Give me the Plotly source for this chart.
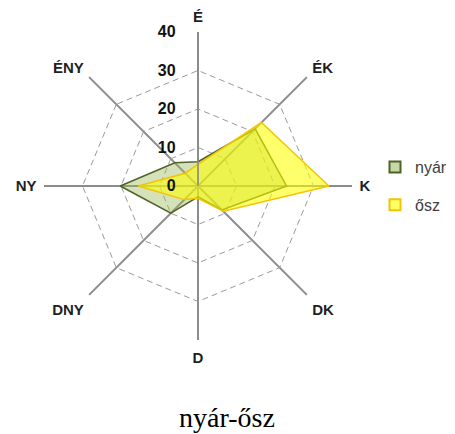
import plotly.graph_objects as go

directions = ["É", "ÉK", "K", "DK", "D", "DNY", "NY", "ÉNY"]
nyar = [6.3, 21.0, 23.0, 8.8, 2.8, 10.0, 20.2, 8.5]
osz = [5.6, 23.3, 34.0, 9.3, 3.2, 5.0, 15.5, 4.7]
radial_ticks = [0, 10, 20, 30, 40]

def closed(v):
    return v + v[:1]

series = [
    ("nyár", nyar, "#4f6228", "rgba(155,187,89,0.42)", "#c6d9a4"),
    ("ősz", osz, "#f2c500", "rgba(255,255,0,0.58)", "#ffff66"),
]

fig = go.Figure()
for name, vals, lc, fc, lfc in series:
    fig.add_trace(go.Scatterpolar(
        r=closed(vals), theta=closed(directions), name=name,
        mode="lines", fill="toself", showlegend=False,
        line=dict(color=lc, width=1.5), fillcolor=fc,
    ))
for i, (name, vals, lc, fc, lfc) in enumerate(series):
    fig.add_trace(go.Scatterpolar(
        r=[None], theta=[None], name=name, mode="markers",
        legendgroup=str(i),
        marker=dict(symbol="square", size=11, color=lfc, line=dict(color=lc, width=2)),
    ))

W, H = 455, 434
cx, cy, R = 190, 178, 154

fig.update_layout(
    width=W, height=H,
    margin=dict(l=0, r=0, t=0, b=0),
    paper_bgcolor="white",
    showlegend=True,
    polar=dict(
        domain=dict(x=[(cx - R) / W, (cx + R) / W],
                    y=[(H - cy - R) / H, (H - cy + R) / H]),
        gridshape="linear",
        bgcolor="white",
        angularaxis=dict(
            rotation=90, direction="clockwise",
            categoryorder="array", categoryarray=directions,
            showline=False, gridcolor="#8c8c8c", gridwidth=1.6,
            ticks="outside", ticklen=4, tickcolor="rgba(0,0,0,0)",
            tickfont=dict(family="Liberation Sans", size=15, color="#1f1f1f", weight="bold"),
        ),
        radialaxis=dict(
            range=[0, 40], tickvals=radial_ticks, angle=90, tickangle=90,
            showline=True, linecolor="#8c8c8c", linewidth=1.6,
            gridcolor="#9a9a9a", griddash="6px,4px", gridwidth=1.4,
            ticks="outside", ticklen=16, tickcolor="rgba(0,0,0,0)",
            side="counterclockwise",
            tickfont=dict(family="Liberation Sans", size=16, color="#111111", weight="bold"),
        ),
    ),
    legend=dict(
        x=367 / W, y=1 - 178 / H, xanchor="left", yanchor="middle",
        font=dict(family="Liberation Sans", size=16, color="#404040"),
        tracegroupgap=14, traceorder="grouped", itemwidth=30,
        bgcolor="rgba(0,0,0,0)",
    ),
    annotations=[dict(
        text="nyár-ősz", x=(227 - 8) / W, y=25 / H, xref="paper", yref="paper",
        xanchor="center", yanchor="middle", showarrow=False,
        font=dict(family="Liberation Serif", size=28, color="black"),
    )],
)

fig.write_html("out.html")
